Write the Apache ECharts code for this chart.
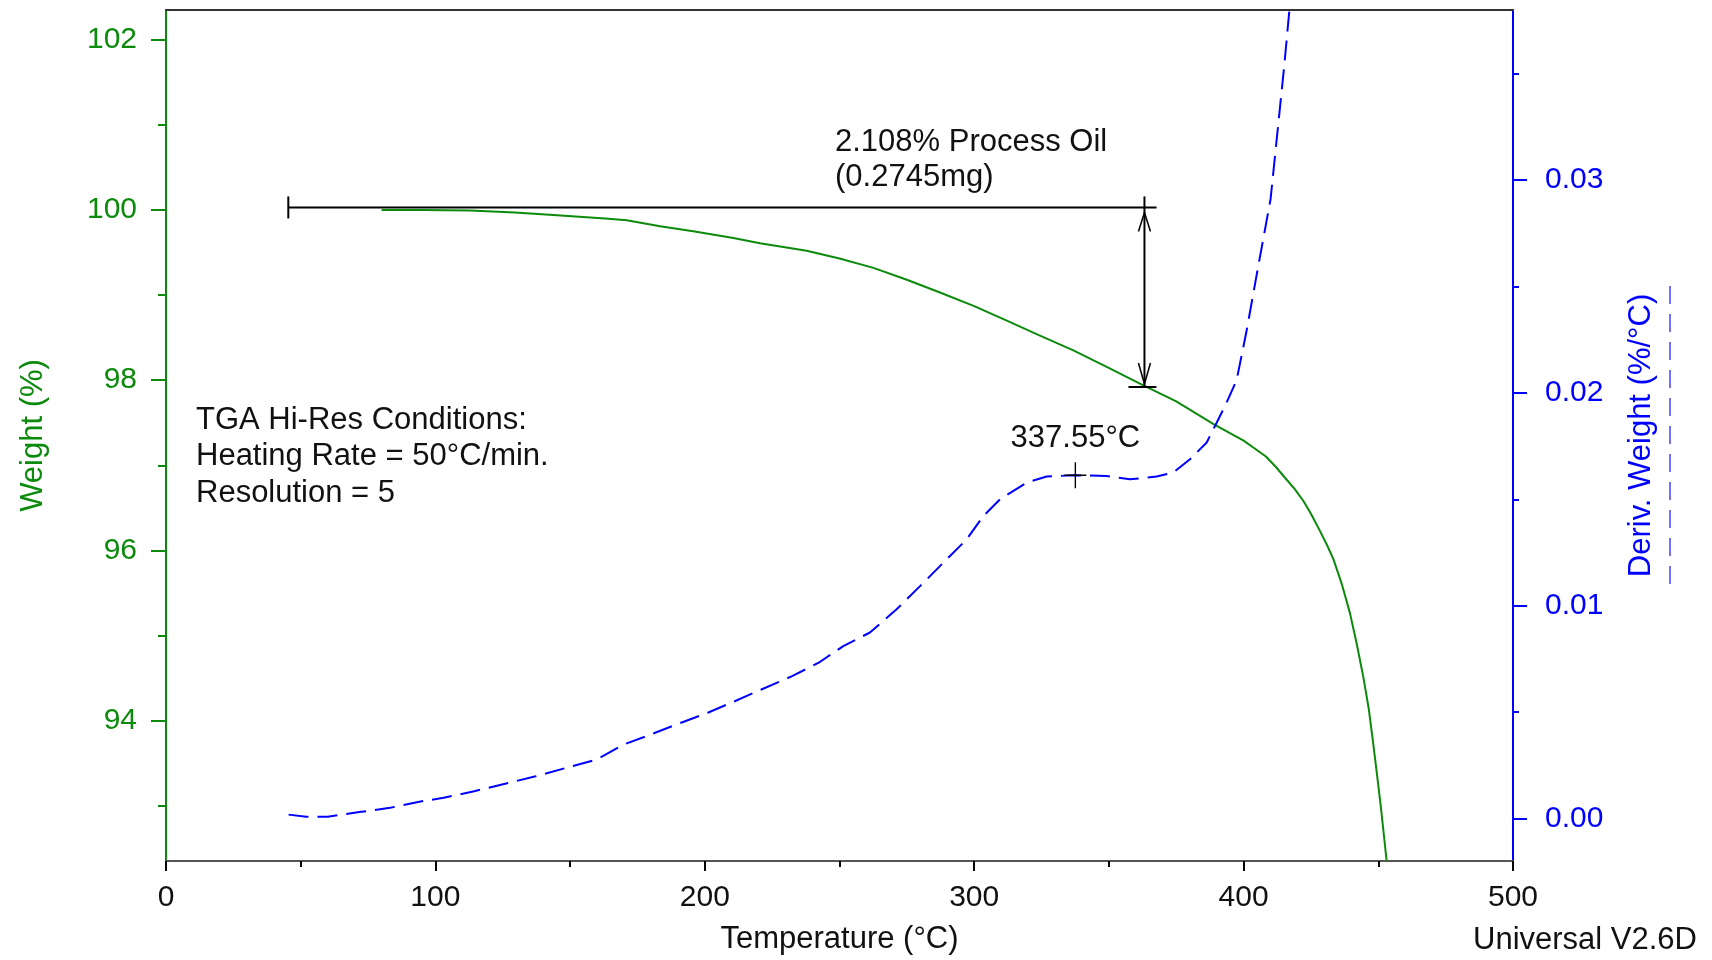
<!DOCTYPE html>
<html><head><meta charset="utf-8">
<script src="https://cdn.jsdelivr.net/npm/echarts@6/dist/echarts.min.js"></script>
<style>html,body{margin:0;padding:0;background:#fff}#c{width:1712px;height:960px}</style>
</head><body><div id="c"></div>
<script>
// ---- data ----
const weightT   = [80, 95, 112.8, 129.5, 143.8, 163, 171, 183.4, 195.7, 210.6, 220.5, 237.8, 250, 262.6, 275, 287.3, 300, 312.1, 324, 336.8, 349, 361.5, 375, 389, 400, 404, 408.4, 412, 416, 419, 422.2, 425, 428, 431, 433.3, 436.5, 439.5, 442, 444.4, 446.5, 448, 449.5, 451, 453.1];
const weightPct = [100.00, 100.00, 99.995, 99.97, 99.94, 99.90, 99.88, 99.81, 99.75, 99.67, 99.61, 99.52, 99.43, 99.32, 99.18, 99.03, 98.87, 98.70, 98.53, 98.35, 98.16, 97.96, 97.75, 97.48, 97.29, 97.20, 97.10, 96.98, 96.83, 96.72, 96.58, 96.43, 96.25, 96.06, 95.90, 95.60, 95.26, 94.90, 94.52, 94.13, 93.76, 93.37, 92.97, 92.35];
const derivT    = [45.5, 52, 60, 71.8, 83.2, 94.5, 103.1, 114.4, 127.2, 137.2, 148.6, 159.9, 169.9, 178.4, 191.2, 201.1, 211.1, 221, 232.4, 242.3, 251.4, 261.3, 271.2, 279.9, 289.8, 297.2, 303.4, 309.6, 319.5, 326.9, 336.8, 349.2, 357.8, 367.7, 373.9, 380.1, 386.3, 390, 393.7, 397.4, 401, 405.5, 410, 412.6, 415.1, 417.0];
const derivVal  = [0.00018, 0.00008, 0.00008, 0.0003, 0.0005, 0.0008, 0.00097, 0.00128, 0.00167, 0.00198, 0.00238, 0.00277, 0.00348, 0.00387, 0.0045, 0.00497, 0.00551, 0.00606, 0.00669, 0.00732, 0.0081, 0.00874, 0.00983, 0.01092, 0.01218, 0.01312, 0.01421, 0.015, 0.01579, 0.01607, 0.01613, 0.0161, 0.01594, 0.01607, 0.01626, 0.01688, 0.01767, 0.0186, 0.01955, 0.0206, 0.02285, 0.026, 0.0291, 0.0323, 0.0354, 0.038];
const weightTicks      = [94, 96, 98, 100, 102];
const weightMinorTicks = [93, 95, 97, 99, 101];
const derivTicks       = [0, 0.01, 0.02, 0.03];
const derivMinorTicks  = [0.005, 0.015, 0.025, 0.035];
const peakPoint  = [337.55, 0.01613];
// weight-loss bracket: start T, end T, arrow T, top weight, bottom weight
const lossBracket = [45.4, 367.7, 363.2, 100.03, 97.92];
const lossText = ['2.108% Process Oil', '(0.2745mg)'];
const condText = ['TGA Hi-Res Conditions:', 'Heating Rate = 50°C/min.', 'Resolution = 5'];

// ---- styles ----
const FF = '"Liberation Sans", Arial, sans-serif';
const G = '#0c8a0c', B = '#0000ff', K = '#111111';

const chart = echarts.init(document.getElementById('c'), null, {renderer: 'canvas'});
const zipPairs = (a, b) => a.map((v, i) => [v, b[i]]);

const option = {
  animation: false,
  backgroundColor: '#fff',
  textStyle: {fontFamily: FF},
  grid: {left: 166, right: 199, top: 10, bottom: 99, containLabel: false},
  xAxis: [
    {
      type: 'value', position: 'bottom', min: 0, max: 500, interval: 100,
      axisLine: {onZero: false, lineStyle: {color: '#555', width: 2}},
      axisTick: {length: 10, lineStyle: {color: '#000', width: 2}},
      minorTick: {show: true, splitNumber: 2, length: 6, lineStyle: {color: '#000', width: 2}},
      splitLine: {show: false}, minorSplitLine: {show: false},
      axisLabel: {fontSize: 30, color: K, margin: 22, fontFamily: FF},
      name: 'Temperature (°C)', nameLocation: 'middle', nameGap: 63,
      nameTextStyle: {fontSize: 31, color: K, fontFamily: FF}
    },
    {
      type: 'value', position: 'top', min: 0, max: 500,
      axisLine: {show: true, onZero: false, lineStyle: {color: '#333', width: 2}},
      axisTick: {show: false}, axisLabel: {show: false}, splitLine: {show: false}
    }
  ],
  yAxis: [
    {
      type: 'value', position: 'left', min: 92.35, max: 102.35,
      axisLine: {show: true, onZero: false, lineStyle: {color: G, width: 2}},
      axisTick: {show: true, length: 15, customValues: weightTicks, lineStyle: {color: G, width: 2}},
      axisLabel: {customValues: weightTicks, fontSize: 30, color: G, margin: 29, fontFamily: FF},
      splitLine: {show: false},
      name: 'Weight (%)', nameLocation: 'middle', nameRotate: 90, nameGap: 117,
      nameTextStyle: {fontSize: 31, color: G, fontFamily: FF}
    },
    {
      type: 'value', position: 'right', min: -0.002, max: 0.038,
      axisLine: {show: true, onZero: false, lineStyle: {color: B, width: 2}},
      axisTick: {show: true, length: 14, customValues: derivTicks, lineStyle: {color: B, width: 2}},
      axisLabel: {customValues: derivTicks, fontSize: 30, color: B, margin: 32, fontFamily: FF,
                  formatter: v => Number(v).toFixed(2)},
      splitLine: {show: false},
      name: 'Deriv. Weight (%/°C)', nameLocation: 'middle', nameRotate: 90, nameGap: 113,
      nameTextStyle: {fontSize: 31, color: B, fontFamily: FF}
    },
    {
      type: 'value', position: 'left', min: 92.35, max: 102.35,
      axisLine: {show: false, onZero: false},
      axisTick: {show: true, length: 8, customValues: weightMinorTicks, lineStyle: {color: G, width: 2}},
      axisLabel: {show: false}, splitLine: {show: false}
    },
    {
      type: 'value', position: 'right', min: -0.002, max: 0.038,
      axisLine: {show: false, onZero: false},
      axisTick: {show: true, length: 6, customValues: derivMinorTicks, lineStyle: {color: B, width: 2}},
      axisLabel: {show: false}, splitLine: {show: false}
    }
  ],
  series: [
    {
      name: 'Weight', type: 'line', xAxisIndex: 0, yAxisIndex: 0,
      data: zipPairs(weightT, weightPct), showSymbol: false, symbol: 'none',
      smooth: false, clip: true,
      lineStyle: {color: G, width: 2}
    },
    {
      name: 'Deriv. Weight', type: 'line', xAxisIndex: 0, yAxisIndex: 1,
      data: zipPairs(derivT, derivVal), showSymbol: false, symbol: 'none',
      smooth: false, clip: true,
      lineStyle: {color: B, width: 2, type: [20, 9]}
    },
    {
      name: 'Peak', type: 'scatter', xAxisIndex: 0, yAxisIndex: 1,
      data: [peakPoint],
      symbol: 'path://M0,12L24,12M12,0L12,24', symbolSize: [22, 26],
      itemStyle: {color: 'rgba(0,0,0,0)', borderColor: '#000', borderWidth: 1.5, opacity: 1},
      label: {show: true, position: 'top', distance: 8, fontSize: 31, color: K, fontFamily: FF, opacity: 1,
              formatter: p => p.value[0].toFixed(2) + '°C'},
      z: 5
    },
    {
      name: 'Loss', type: 'custom', xAxisIndex: 0, yAxisIndex: 0, clip: false, z: 4,
      data: [lossBracket],
      renderItem: function (params, api) {
        const a = api.coord([api.value(0), api.value(3)]);
        const b = api.coord([api.value(1), api.value(3)]);
        const t = api.coord([api.value(2), api.value(3)]);
        const u = api.coord([api.value(2), api.value(4)]);
        const s = {stroke: '#000', lineWidth: 2};
        const L = (x1, y1, x2, y2) => ({type: 'line', shape: {x1, y1, x2, y2}, style: s});
        const P = pts => ({type: 'polyline', shape: {points: pts}, style: {stroke: '#000', fill: null, lineWidth: 1.5}});
        return {type: 'group', children: [
          L(a[0], a[1], b[0], b[1]),
          L(a[0], a[1] - 11, a[0], a[1] + 11),
          L(t[0], t[1] - 11, u[0], u[1]),
          L(u[0] - 16, u[1], u[0] + 12, u[1]),
          P([[t[0] - 6, t[1] + 24], [t[0], t[1] + 5], [t[0] + 6, t[1] + 24]]),
          P([[u[0] - 6, u[1] - 24], [u[0], u[1] - 3], [u[0] + 6, u[1] - 24]])
        ]};
      }
    }
  ],
  graphic: [
    {type: 'text', left: 835, top: 125, style: {text: lossText.join('\n'), fontSize: 31, fontFamily: FF, fill: K, lineHeight: 35}},
    {type: 'text', left: 196, top: 402, style: {text: condText.join('\n'), fontSize: 31, fontFamily: FF, fill: K, lineHeight: 36.5}},
    {type: 'text', right: 15, top: 925, style: {text: 'Universal V2.6D', fontSize: 31, fontFamily: FF, fill: K}},
    {type: 'line', shape: {x1: 1670, y1: 286, x2: 1670, y2: 585}, style: {stroke: '#7070ff', lineWidth: 2, lineDash: [18, 10]}}
  ]
};
chart.setOption(option);
</script>
</body></html>
